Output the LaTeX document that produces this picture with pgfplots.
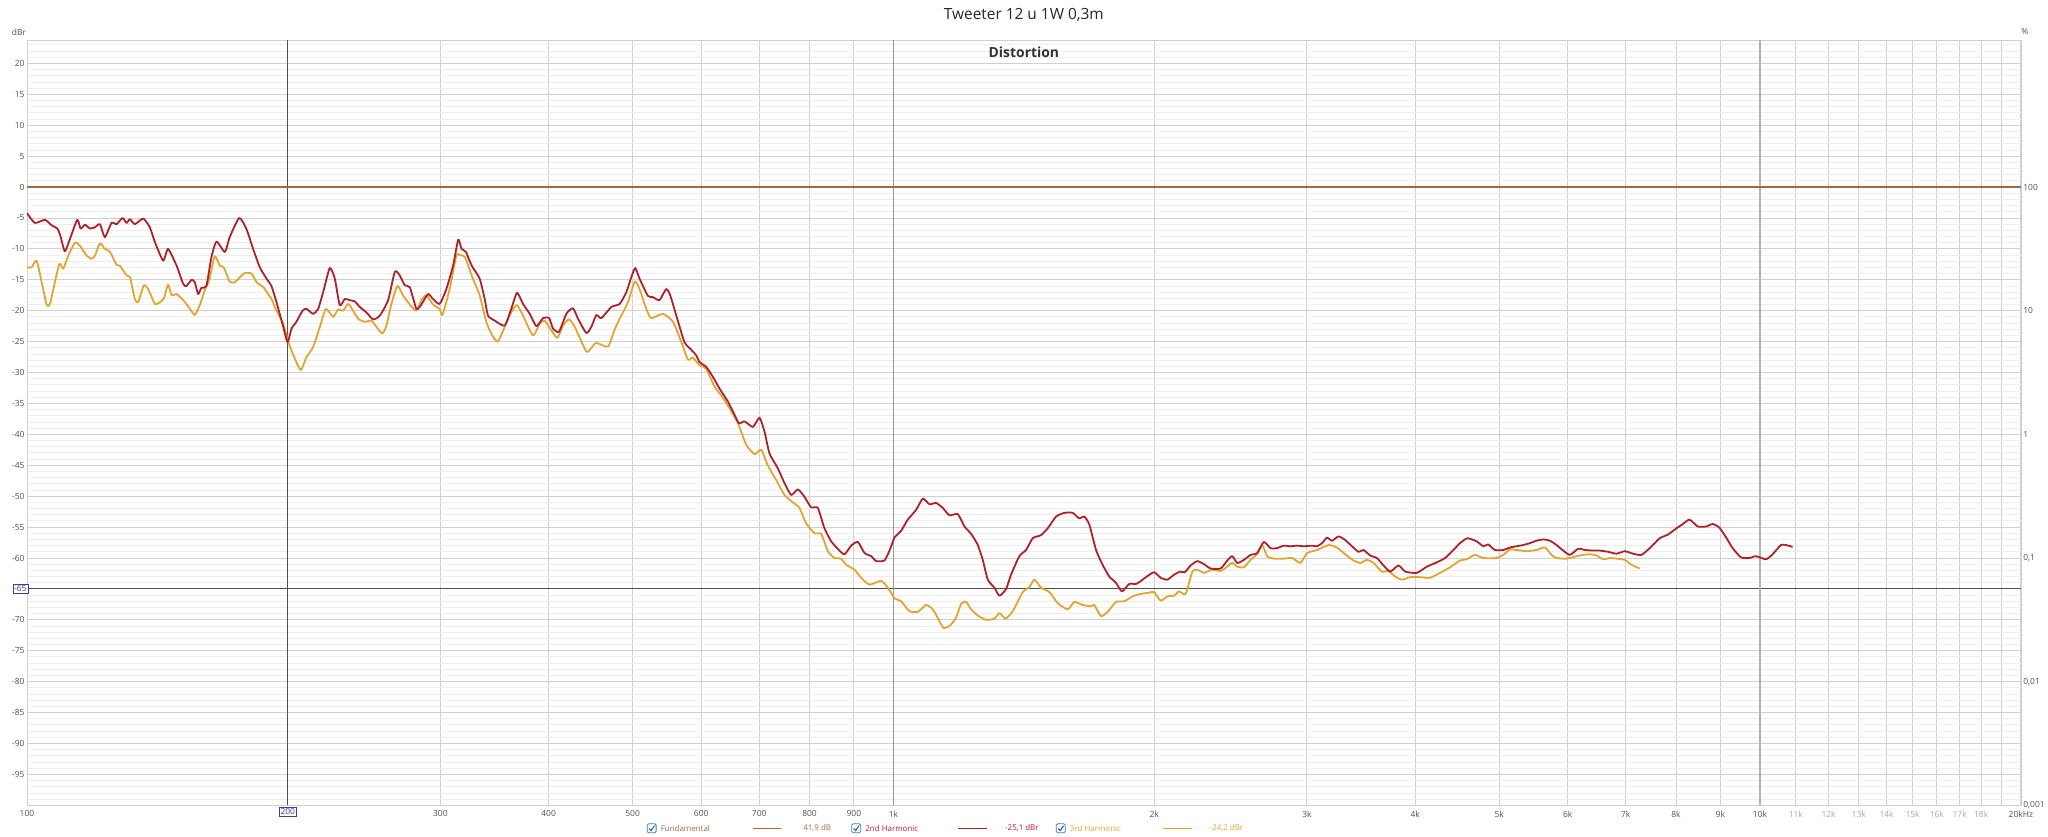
\documentclass[border=0pt]{standalone}
\usepackage{pgfplots}
\pgfplotsset{compat=1.18}
\usepackage{fontspec}
\setmainfont{Open Sans}

\definecolor{redc}{HTML}{B0202A}
\definecolor{orc}{HTML}{E0A531}
\definecolor{fund}{HTML}{A8683C}
\definecolor{gridmaj}{HTML}{D0D0D0}
\definecolor{gridmin}{HTML}{EEEEEE}
\definecolor{cursor}{HTML}{505050}
\definecolor{lab}{HTML}{505050}
\definecolor{lablight}{HTML}{A8A8A8}
\definecolor{cbox}{HTML}{3A7CC0}
\definecolor{curbox}{HTML}{3C3C9C}

\newcommand{\tickfont}{\fontsize{8.5}{10}\selectfont}
\newcommand{\legfont}{\fontsize{8}{9}\selectfont}
\newcommand{\cbox}[1]{%
  \draw[cbox, line width=0.8bp, fill=white, rounded corners=1.4bp] (#1-4.5,-27.5) rectangle (#1+4.5,-18.5);
  \draw[cbox!70!black, line width=1bp] (#1-2.6,-23.2) -- (#1-0.6,-25.4) -- (#1+2.8,-20.4);}

\begin{document}
\begin{tikzpicture}
\begin{axis}[
  name=ax,
  scale only axis,
  width=1998bp, height=767bp,
  xmode=log,
  xmin=100, xmax=20000,
  ymin=-100, ymax=23.8,
  axis line style={draw=gridmaj},
  major tick length=0pt, minor tick length=0pt,
  xtick={100,300,400,500,600,700,800,900,1000,2000,3000,4000,5000,6000,7000,8000,9000,10000,11000,12000,13000,14000,15000,16000,17000,18000,19000,20000},
  xticklabels={100,300,400,500,600,700,800,900,1k,2k,3k,4k,5k,6k,7k,8k,9k,10k,
    \textcolor{lablight}{11k},\textcolor{lablight}{12k},\textcolor{lablight}{13k},\textcolor{lablight}{14k},
    \textcolor{lablight}{15k},\textcolor{lablight}{16k},\textcolor{lablight}{17k},\textcolor{lablight}{18k},{},20kHz},
  ytick={-95,-90,-85,-80,-75,-70,-60,-55,-50,-45,-40,-35,-30,-25,-20,-15,-10,-5,0,5,10,15,20},
  yticklabels={-95,-90,-85,-80,-75,-70,-60,-55,-50,-45,-40,-35,-30,-25,-20,-15,-10,-5,0,5,10,15,20},
  minor ytick={-99,-98,...,23},
  xmajorgrids, ymajorgrids, yminorgrids,
  major grid style={draw=gridmaj, line width=0.9bp},
  minor grid style={draw=gridmin, line width=0.9bp},
  tick label style={font=\tickfont, text=lab},
  xticklabel style={yshift=-2bp},
  yticklabel style={xshift=1bp},
  extra x ticks={200},
  extra x tick labels={{200,0}},
  extra y ticks={-65},
  extra y tick labels={{-65,0}},
  extra tick style={grid=major, major grid style={draw=cursor, line width=1bp},
    tick label style={draw=curbox, text=curbox, fill=white, inner sep=1.2bp}},
  clip=true,
]
\addplot[forget plot, draw=gray!80, line width=1bp] coordinates {(1000,-100) (1000,23.8)};
\addplot[forget plot, draw=gray!60, line width=1.2bp] coordinates {(10000,-100) (10000,23.8)};

% Fundamental (reference level)
\addplot[fund, line width=2bp] coordinates {(100,0) (20000,0)};

% 3rd harmonic
\addplot[orc, line width=1.8bp, smooth, tension=0.35, line join=round] coordinates {
(100,-13.0) (101.2,-13.0) (102.6,-11.9) (104.0,-15.4) (105.4,-19.1) (106.3,-18.9)
(107.7,-15.4) (109.0,-12.4) (110.1,-13.2) (111.6,-11.1) (113.6,-9.0) (115.1,-9.5)
(117.2,-11.1) (118.7,-11.6) (119.8,-11.1) (121.4,-9.1) (123.0,-10.0) (124.7,-10.5)
(126.9,-12.6) (128.0,-12.7) (130.3,-14.3) (131.5,-14.6) (133.2,-18.1) (134.4,-18.6)
(136.4,-15.9) (138.0,-16.5) (140.5,-18.9) (142.4,-18.6) (143.9,-18.0) (145.5,-15.8)
(146.9,-17.5) (148.8,-17.3) (151.5,-18.3) (154.2,-19.7) (156.2,-20.7) (158.3,-19.1)
(160.4,-16.7) (162.3,-15.1) (164.7,-11.2) (166.9,-12.7) (168.7,-13.0) (171.4,-15.3)
(173.7,-15.4) (176.1,-14.6) (178.4,-13.9) (181.6,-14.0) (184.1,-15.4) (187.4,-16.2)
(191.5,-18.1) (194.1,-20.0) (197.6,-22.1) (200.2,-25.0) (203.7,-27.7) (207.0,-29.6)
(210.2,-27.5) (213.9,-25.9) (217.8,-22.6) (221.3,-19.7) (225.6,-21.0) (228.6,-19.8)
(231.7,-20.0) (234.8,-18.9) (237.9,-20.0) (241.1,-21.3) (245.4,-21.8) (249.7,-21.6)
(253.1,-22.6) (257.1,-23.7) (259.9,-22.4) (263.4,-18.9) (267.6,-16.0) (271.6,-17.5)
(276.6,-19.0) (281.5,-20.0) (285.2,-18.3) (289.1,-17.5) (294.2,-19.0) (299.4,-19.7)
(301.6,-20.7) (307.5,-16.5) (313.0,-11.1) (315.8,-11.0) (320.2,-11.3) (326.0,-14.3)
(333.0,-17.5) (338.9,-21.8) (344.4,-24.0) (349.6,-25.0) (355.9,-22.6) (362.2,-20.2)
(367.8,-19.1) (373.7,-20.8) (383.7,-24.0) (390.6,-22.1) (395.8,-21.6) (402.9,-23.2)
(409.4,-24.4) (415.6,-22.4) (422.2,-21.4) (428.7,-22.6) (442.1,-26.6) (448.1,-26.0)
(454.0,-25.2) (468.3,-25.8) (476.8,-23.0) (483.1,-21.3) (493.9,-18.6) (502.8,-15.3)
(509.3,-16.5) (518.4,-19.7) (525.4,-21.2) (542.0,-20.5) (556.7,-21.8) (569.2,-25.1)
(579.1,-27.9) (586.8,-27.6) (597.3,-28.8) (608.0,-29.4) (621.6,-32.3) (632.7,-33.7)
(647.0,-35.8) (661.5,-38.2) (676.3,-41.7) (691.5,-43.2) (703.8,-42.5) (716.1,-45.0)
(732.3,-47.4) (748.7,-49.8) (765.4,-51.0) (779.1,-51.9) (793.1,-54.4) (810.9,-56.0)
(825.3,-56.1) (840.0,-58.9) (855.1,-60.0) (870.2,-60.1) (881.9,-61.1) (901.6,-61.9)
(917.7,-63.2) (938.3,-64.3) (967.8,-63.7) (985.1,-64.8) (1002.7,-66.5) (1020.5,-67.0)
(1043.5,-68.6) (1066.9,-68.7) (1090.7,-67.6) (1110.2,-68.3) (1124.9,-69.7) (1142.1,-71.3)
(1162.5,-70.9) (1181.2,-69.6) (1197.1,-67.4) (1212.9,-67.1) (1229.2,-68.3) (1251.2,-69.3)
(1279.2,-70.0) (1307.7,-69.8) (1325.3,-68.9) (1346.5,-69.8) (1373.0,-68.6) (1409.9,-65.5)
(1435.1,-64.7) (1454.2,-63.5) (1480.2,-64.8) (1513.2,-65.5) (1547.1,-67.3) (1588.9,-68.3)
(1617.3,-67.1) (1653.5,-67.6) (1690.4,-67.8) (1705.3,-67.6) (1735.8,-69.4) (1766.9,-68.7)
(1806.3,-67.1) (1846.7,-67.0) (1888.0,-66.2) (1930.6,-65.8) (1973.9,-65.6) (1998.6,-65.5)
(2034.3,-66.9) (2070.7,-66.2) (2107.7,-66.1) (2135.5,-65.4) (2173.8,-65.8) (2212.7,-62.2)
(2242.0,-61.9) (2282.1,-62.4) (2333.1,-61.9) (2385.3,-62.1) (2427.9,-61.4) (2460.0,-60.8)
(2493.1,-61.4) (2537.7,-61.5) (2582.3,-60.3) (2628.5,-59.4) (2663.8,-57.9) (2699.0,-59.7)
(2747.3,-60.1) (2821.0,-60.1) (2884.0,-60.0) (2948.6,-60.8) (3001.4,-59.2) (3081.8,-58.7)
(3178.4,-57.9) (3249.4,-58.3) (3322.0,-59.4) (3396.3,-60.4) (3457.0,-60.8) (3518.8,-60.3)
(3581.7,-60.8) (3661.7,-62.2) (3726.3,-62.1) (3793.2,-63.0) (3861.0,-63.5) (3947.4,-63.1)
(4053.3,-63.1) (4162.1,-63.2) (4273.6,-62.4) (4388.3,-61.5) (4506.1,-60.4) (4586.6,-60.2)
(4689.1,-59.5) (4794.0,-60.0) (4965.7,-60.0) (5054.8,-59.5) (5145.2,-58.6) (5237.2,-58.7)
(5377.8,-58.9) (5522.1,-58.7) (5645.5,-58.3) (5746.7,-59.5) (5823.9,-60.0) (5982.2,-60.1)
(6142.7,-59.7) (6251.4,-59.5) (6363.2,-59.4) (6476.8,-59.6) (6592.9,-60.2) (6710.7,-60.0)
(6829.6,-60.1) (6982.2,-60.3) (7106.7,-61.1) (7266.1,-61.7)
};

% 2nd harmonic
\addplot[redc, line width=1.8bp, smooth, tension=0.35, line join=round] coordinates {
(100,-4.2) (102.1,-5.8) (104.9,-5.3) (106.8,-6.2) (108.4,-6.7) (109.3,-7.9)
(110.6,-10.4) (112.1,-8.4) (114.3,-5.3) (115.3,-6.7) (116.7,-6.1) (118.2,-6.7)
(119.8,-6.5) (121.4,-6.0) (123.0,-8.1) (125.2,-5.8) (126.9,-6.0) (128.9,-5.0)
(130.3,-5.8) (131.5,-5.2) (133.2,-6.0) (136.2,-5.1) (138.6,-6.5) (140.5,-8.9)
(143.6,-11.9) (145.5,-10.0) (148.8,-12.7) (151.5,-15.7) (152.8,-16.0) (154.9,-15.0)
(156.2,-15.4) (157.6,-17.3) (159.0,-16.3) (161.1,-16.0) (163.3,-11.3) (165.5,-8.8)
(169.2,-10.5) (171.4,-8.1) (175.8,-5.0) (179.2,-6.8) (182.4,-10.0) (185.7,-13.0)
(189.0,-14.8) (191.5,-16.0) (194.1,-18.6) (197.6,-22.6) (199.9,-25.1) (202.0,-22.9)
(204.6,-21.8) (208.0,-20.0) (210.2,-19.7) (213.9,-20.5) (216.8,-19.7) (219.7,-17.0)
(223.6,-13.1) (226.6,-14.8) (229.6,-19.1) (232.7,-18.1) (235.8,-18.3) (239.0,-18.5)
(242.2,-19.4) (246.5,-20.3) (250.9,-21.4) (255.4,-20.8) (261.1,-18.3) (265.8,-13.7)
(269.3,-14.3) (272.9,-15.9) (276.6,-16.2) (281.5,-19.7) (285.2,-19.0) (290.3,-17.3)
(294.2,-18.1) (299.4,-18.9) (304.8,-16.5) (310.3,-12.7) (314.6,-8.5) (317.4,-10.0)
(321.1,-10.5) (326.0,-12.7) (333.0,-14.8) (337.5,-18.1) (340.5,-20.8) (346.6,-21.6)
(355.9,-22.4) (362.2,-19.7) (367.8,-17.1) (373.7,-18.9) (380.4,-20.5) (387.2,-22.5)
(394.1,-21.2) (400.5,-21.2) (404.7,-22.9) (411.2,-23.4) (419.3,-20.5) (426.7,-19.6)
(432.5,-21.3) (442.1,-23.6) (448.1,-22.6) (454.0,-20.7) (460.1,-21.2) (472.5,-19.4)
(483.1,-18.9) (491.7,-17.0) (498.2,-14.6) (503.5,-13.1) (509.3,-14.8) (520.7,-17.6)
(527.7,-17.8) (537.0,-18.3) (546.6,-16.5) (552.5,-17.5) (563.8,-21.6) (573.9,-25.1)
(584.2,-26.3) (592.0,-27.2) (597.3,-28.3) (608.0,-29.1) (618.9,-30.7) (630.0,-32.6)
(644.1,-34.7) (652.8,-36.3) (663.2,-38.2) (673.3,-37.9) (688.4,-38.8) (700.6,-37.3)
(710.0,-39.6) (719.4,-43.1) (735.5,-45.5) (748.7,-47.9) (762.1,-49.8) (775.7,-48.9)
(789.5,-50.1) (803.5,-51.8) (817.9,-51.9) (832.5,-55.2) (847.5,-57.3) (864.8,-58.7)
(878.1,-59.4) (893.8,-58.0) (909.8,-57.4) (926.0,-59.2) (942.6,-59.7) (955.0,-60.5)
(976.4,-60.4) (989.5,-58.8) (1002.7,-56.7) (1020.5,-55.6) (1038.7,-53.8) (1062.1,-52.2)
(1081.0,-50.4) (1100.3,-51.3) (1120.0,-51.1) (1140.0,-51.9) (1160.4,-53.1) (1186.4,-52.9)
(1207.6,-54.9) (1229.2,-56.1) (1251.2,-57.9) (1267.8,-60.3) (1284.8,-63.5) (1307.7,-64.8)
(1325.3,-66.1) (1348.9,-65.0) (1366.7,-62.7) (1397.3,-59.7) (1422.3,-58.7) (1447.8,-56.8)
(1480.2,-56.3) (1506.6,-55.2) (1540.3,-53.3) (1574.7,-52.7) (1609.9,-52.7) (1638.7,-53.6)
(1660.7,-53.3) (1683.0,-54.6) (1713.1,-58.7) (1743.4,-61.1) (1774.6,-63.0) (1806.3,-64.0)
(1835.3,-65.4) (1871.5,-64.2) (1905.0,-64.2) (1930.6,-63.7) (1956.2,-63.1) (1998.6,-62.3)
(2034.3,-63.2) (2070.7,-63.5) (2107.7,-62.7) (2141.5,-62.2) (2168.3,-62.3) (2203.0,-61.2)
(2242.0,-60.5) (2282.1,-61.0) (2322.9,-61.7) (2385.3,-61.7) (2427.9,-60.4) (2460.0,-59.7)
(2493.1,-60.8) (2537.7,-60.3) (2582.3,-59.5) (2628.5,-59.2) (2675.5,-57.4) (2723.3,-58.4)
(2771.4,-58.4) (2821.0,-58.0) (2871.4,-58.1) (2922.8,-58.0) (2975.1,-58.1) (3040.9,-58.0)
(3081.8,-58.1) (3123.2,-57.6) (3164.5,-56.7) (3207.0,-57.2) (3264.3,-56.5) (3322.0,-57.1)
(3381.4,-58.1) (3441.9,-59.0) (3487.3,-58.7) (3549.7,-59.6) (3613.2,-60.0) (3677.8,-61.2)
(3743.6,-62.2) (3827.3,-61.2) (3895.8,-62.2) (4017.9,-62.4) (4125.7,-61.4) (4236.4,-60.7)
(4331.1,-60.0) (4427.9,-58.7) (4506.1,-57.6) (4595.1,-56.8) (4709.7,-57.3) (4794.0,-58.1)
(4857.3,-57.8) (4944.2,-58.7) (5054.8,-58.7) (5145.2,-58.3) (5237.2,-58.1) (5329.7,-57.9)
(5425.0,-57.6) (5522.1,-57.2) (5620.9,-57.0) (5721.6,-57.2) (5823.9,-57.9) (5928.7,-58.8)
(6034.8,-59.5) (6169.7,-58.5) (6280.2,-58.7) (6420.5,-58.8) (6535.2,-58.8) (6680.2,-59.0)
(6829.6,-59.3) (6982.2,-58.9) (7138.4,-59.3) (7297.9,-59.5) (7461.0,-58.4) (7661.5,-56.8)
(7833.3,-56.2) (8008.4,-55.2) (8147.4,-54.5) (8292.8,-53.8) (8478.4,-54.9) (8668.0,-54.9)
(8822.6,-54.5) (8979.3,-55.1) (9141.4,-56.7) (9298.8,-58.4) (9508.1,-59.9) (9720.3,-60.0)
(9894.8,-59.7) (10160,-60.2) (10340,-59.4) (10573,-57.9) (10714,-57.9) (10904,-58.2)
};

\node[font=\fontsize{14}{16}\selectfont\bfseries, text=black!80] at (rel axis cs:0.5,1) [yshift=-12bp] {Distortion};
\end{axis}

% right-hand percentage scale
\begin{axis}[
  scale only axis,
  width=1998bp, height=767bp,
  xmode=log, xmin=100, xmax=20000,
  ymin=-100, ymax=23.8,
  axis x line=none,
  axis y line*=right,
  axis line style={draw=gridmaj},
  major tick length=0pt,
  ytick={0,-20,-40,-60,-80,-100},
  yticklabels={100,10,1,{0,1},{0,01},{0,001}},
  tick label style={font=\tickfont, text=lab},
  yticklabel style={xshift=-1bp},
]
\addplot[draw=none, forget plot] coordinates {(100,0) (20000,0)};
\end{axis}

\node[font=\fontsize{15.5}{18}\selectfont, text=black!85] at ([yshift=25bp]ax.north) {Tweeter 12 u 1W 0,3m};
\node[font=\tickfont, text=lab] at ([shift={(-8bp,8bp)}]ax.north west) {dBr};
\node[font=\tickfont, text=lab] at ([shift={(4bp,8bp)}]ax.north east) {\%};

% legend row under the plot
\begin{scope}[shift={(ax.south west)}, x=1bp, y=1bp, font=\legfont]
  \cbox{626}
  \node[anchor=west, text=fund, inner sep=0] at (635,-23) {Fundamental};
  \draw[fund, line width=1.5bp] (728,-23) -- (756,-23);
  \node[anchor=east, text=fund!70!gray, inner sep=0] at (806,-23) {41,9 dB};
  \cbox{831}
  \node[anchor=west, text=redc, inner sep=0] at (840,-23) {2nd Harmonic};
  \draw[redc, line width=1.5bp] (933,-23) -- (962,-23);
  \node[anchor=east, text=redc, inner sep=0] at (1014,-23) {-25,1 dBr};
  \cbox{1036}
  \node[anchor=west, text=orc, inner sep=0] at (1045,-23) {3rd Harmonic};
  \draw[orc, line width=1.5bp] (1138,-23) -- (1167,-23);
  \node[anchor=east, text=orc, inner sep=0] at (1219,-23) {-24,2 dBr};
\end{scope}

\path[use as bounding box] ([shift={(-27bp,-31bp)}]ax.south west) rectangle ([shift={(23bp,40bp)}]ax.north east);
\end{tikzpicture}
\end{document}
